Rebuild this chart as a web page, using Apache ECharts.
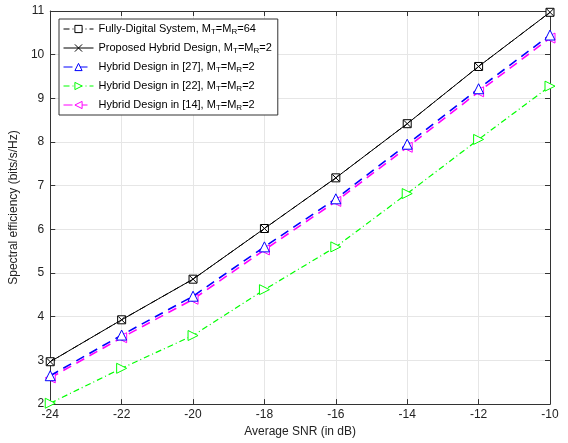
<!DOCTYPE html>
<html><head><meta charset="utf-8">
<script src="https://cdn.jsdelivr.net/npm/echarts@6/dist/echarts.min.js"></script>
<style>html,body{margin:0;padding:0;background:#fff}#c{width:568px;height:443px}</style>
</head><body><div id="c"></div>
<script>
const snr = [-24, -22, -20, -18, -16, -14, -12, -10];
const fullyDigital = [2.97, 3.93, 4.86, 6.02, 7.18, 8.42, 9.73, 10.97];
const proposedHybrid = [2.97, 3.93, 4.86, 6.02, 7.18, 8.42, 9.73, 10.97];
const hybrid27 = [2.65, 3.58, 4.47, 5.60, 6.70, 7.95, 9.22, 10.45];
const hybrid22 = [2.02, 2.82, 3.57, 4.62, 5.60, 6.82, 8.06, 9.28];
const hybrid14 = [2.60, 3.52, 4.40, 5.53, 6.64, 7.88, 9.15, 10.38];
const yTicks = [2, 3, 4, 5, 6, 7, 8, 9, 10, 11];
const xTicks = [-24, -22, -20, -18, -16, -14, -12, -10];

const FONT = 'Liberation Sans, Arial, Helvetica, sans-serif';
const pair = a => snr.map((x, i) => [x, a[i]]);
const xPath = 'path://M0,0L10,10M10,0L0,10';

const legendNames = {
  fd: '{a|Fully-Digital System, M}{s|T}{a|=M}{s|R}{a|=64}',
  ph: '{a|Proposed Hybrid Design, M}{s|T}{a|=M}{s|R}{a|=2}',
  h27: '{a|Hybrid Design in [27], M}{s|T}{a|=M}{s|R}{a|=2}',
  h22: '{a|Hybrid Design in [22], M}{s|T}{a|=M}{s|R}{a|=2}',
  h14: '{a|Hybrid Design in [14], M}{s|T}{a|=M}{s|R}{a|=2}'
};

const chart = echarts.init(document.getElementById('c'), null, {renderer: 'canvas'});
const hollow = (c) => ({color: '#fff', borderColor: c, borderWidth: 1});
chart.setOption({
  animation: false,
  backgroundColor: '#fff',
  grid: {left: 50, right: 18, top: 11, bottom: 38, show: false},
  legend: {
    orient: 'vertical', left: 59, top: 19,
    backgroundColor: '#fff', borderColor: '#333', borderWidth: 1,
    padding: [3, 6, 3, 4], itemGap: 5, itemWidth: 30, itemHeight: 9,
    lineStyle: {width: 1},
    itemStyle: {borderWidth: 1},
    formatter: n => legendNames[n],
    textStyle: {fontFamily: FONT, fontSize: 11, color: '#000',
      rich: {a: {fontFamily: FONT, fontSize: 11, color: '#000', lineHeight: 13},
             s: {fontFamily: FONT, fontSize: 8, color: '#000', lineHeight: 13, padding: [6, 0, 0, 0]}}},
    data: ['fd', 'ph', 'h27', 'h22', 'h14']
  },
  xAxis: [{
    type: 'value', min: -24, max: -10, interval: 2,
    name: 'Average SNR (in dB)', nameLocation: 'middle', nameGap: 19,
    nameTextStyle: {fontFamily: FONT, fontSize: 12, color: '#222'},
    axisLine: {lineStyle: {color: '#333'}},
    axisTick: {inside: true, length: 5, lineStyle: {color: '#333'}},
    axisLabel: {fontFamily: FONT, fontSize: 12, color: '#222', margin: 5},
    splitLine: {lineStyle: {color: '#e6e6e6'}}
  }, {
    type: 'value', position: 'top', min: -24, max: -10, interval: 2,
    axisLine: {onZero: false, lineStyle: {color: '#333'}},
    axisTick: {inside: true, length: 5, lineStyle: {color: '#333'}},
    axisLabel: {show: false}, splitLine: {show: false}
  }],
  yAxis: [{
    type: 'value', min: 2, max: 11, interval: 1,
    name: 'Spectral efficiency (bits/s/Hz)', nameLocation: 'middle', nameGap: 28,
    nameTextStyle: {fontFamily: FONT, fontSize: 12, color: '#222'},
    axisLine: {show: true, lineStyle: {color: '#333'}},
    axisTick: {show: true, inside: true, length: 5, lineStyle: {color: '#333'}},
    axisLabel: {fontFamily: FONT, fontSize: 12, color: '#222', margin: 6},
    splitLine: {lineStyle: {color: '#e6e6e6'}}
  }, {
    type: 'value', position: 'right', min: 2, max: 11, interval: 1,
    axisLine: {show: true, onZero: false, lineStyle: {color: '#333'}},
    axisTick: {show: true, inside: true, length: 5, lineStyle: {color: '#333'}},
    axisLabel: {show: false}, splitLine: {show: false}
  }],
  series: [
    {name: 'fd', type: 'line', data: pair(fullyDigital), symbol: 'rect', symbolSize: 8,
     lineStyle: {color: '#000', width: 1, type: [6, 3, 1, 3]}, itemStyle: hollow('#000'), z: 3},
    {name: 'ph', type: 'line', data: pair(proposedHybrid), symbol: xPath, symbolSize: 7,
     lineStyle: {color: '#000', width: 1}, itemStyle: {color: 'none', borderColor: '#000', borderWidth: 1}, z: 4},
    {name: 'h27', type: 'line', data: pair(hybrid27), symbol: 'triangle', symbolSize: 10,
     lineStyle: {color: '#0000ff', width: 1.6, type: [9, 6]}, itemStyle: hollow('#0000ff'), z: 2},
    {name: 'h22', type: 'line', data: pair(hybrid22), symbol: 'triangle', symbolSize: 10, symbolRotate: -90,
     lineStyle: {color: '#00ff00', width: 1.2, type: [6, 3, 1, 3]}, itemStyle: hollow('#00ff00'), z: 2},
    {name: 'h14', type: 'line', data: pair(hybrid14), symbol: 'triangle', symbolSize: 10, symbolRotate: 90,
     lineStyle: {color: '#ff00ff', width: 1.6, type: [9, 6]}, itemStyle: hollow('#ff00ff'), z: 1}
  ]
});
</script></body></html>
